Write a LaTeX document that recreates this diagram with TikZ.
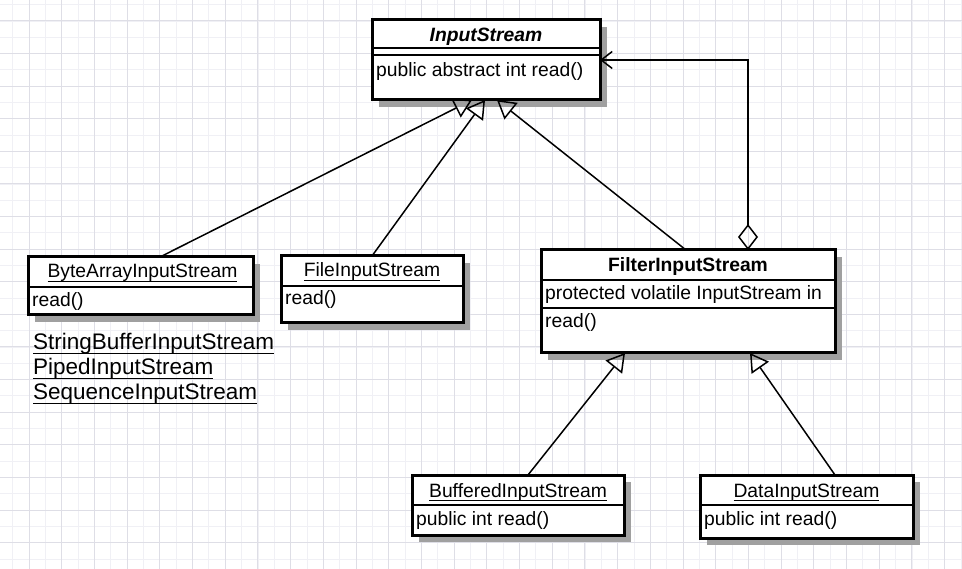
\documentclass[tikz,border=0pt]{standalone}
\usepackage{fontspec}
\setmainfont{Liberation Sans}
\usetikzlibrary{positioning,arrows.meta,shadows,calc}

% underlined class name (ulem is not available)
\newsavebox{\unamebox}
\newcommand{\uname}[1]{\sbox{\unamebox}{#1}\rlap{\rule[-4pt]{\wd\unamebox}{1.3pt}}\usebox{\unamebox}}

\definecolor{gridmajor}{RGB}{222,222,230}
\definecolor{gridminor}{RGB}{240,240,245}
\definecolor{shadowgray}{RGB}{160,160,160}

\tikzset{
  classbox/.style={draw, line width=3pt, fill=white, inner sep=0pt, outer sep=0pt,
    drop shadow={shadow xshift=7pt, shadow yshift=-7pt, fill=shadowgray, opacity=1}},
  sepline/.style={line width=2pt},
  ctitle/.style={anchor=base, inner sep=0pt, font=\fontsize{19.3}{23}\selectfont},
  cmember/.style={anchor=base west, inner sep=0pt, font=\fontsize{19.3}{23}\selectfont},
  subclass/.style={anchor=base west, inner sep=0pt, font=\fontsize{22.5}{25}\selectfont},
  extends/.style={line width=1.5pt, -{Triangle[open, length=18pt, width=21pt]}},
  aggr/.style={line width=1.5pt, {Diamond[open, length=26pt, width=20pt]}-{Straight Barb[length=11pt, width=17pt]}},
}

\begin{document}
\begin{tikzpicture}[x=1pt, y=-1pt]
\fill[white] (0,0) rectangle (962,569);
\useasboundingbox (0,0) rectangle (962,569);

% background grid
\foreach \i in {0,...,58} \draw[gridminor, line width=0.8pt] (12.65+\i*16.35,0) -- ++(0,569);
\foreach \j in {0,...,34} \draw[gridminor, line width=0.8pt] (0,4.7+\j*16.3) -- ++(962,0);
\foreach \i in {0,...,28} \draw[gridmajor, line width=1pt] (29+\i*32.7,0) -- ++(0,569);
\foreach \j in {0,...,16} \draw[gridmajor, line width=1pt] (0,21+\j*32.6) -- ++(962,0);

% class boxes
\node[classbox, minimum width=228pt, minimum height=80pt] (instream) at (486,60) {};
\node[classbox, minimum width=225pt, minimum height=58pt] (bytearray) at (140.5,286) {};
\node[classbox, minimum width=182pt, minimum height=67pt] (fileis) at (372,289.5) {};
\node[classbox, minimum width=294pt, minimum height=103pt] (filter) at (688,301.5) {};
\node[classbox, minimum width=212pt, minimum height=60pt] (buffered) at (518,505) {};
\node[classbox, minimum width=213pt, minimum height=63pt] (datais) at (806.5,506.5) {};

% compartment lines
\foreach \b/\d in {instream/28, instream/35, bytearray/30, fileis/30, filter/30, filter/58, buffered/30, datais/30} {
    \draw[sepline] ([yshift=-\d pt]\b.north west) -- ([yshift=-\d pt]\b.north east);
}

% names
\node[ctitle] (instream-t) at ([yshift=-22pt]instream.north) {\textbf{\textit{InputStream}}};
\node[ctitle] (bytearray-t) at ([xshift=2pt,yshift=-21pt]bytearray.north) {\uname{ByteArrayInputStream}};
\node[ctitle] (fileis-t) at ([yshift=-21pt]fileis.north) {\uname{FileInputStream}};
\node[ctitle] (filter-t) at ([yshift=-22pt]filter.north) {\textbf{FilterInputStream}};
\node[ctitle] (buffered-t) at ([yshift=-22pt]buffered.north) {\uname{BufferedInputStream}};
\node[ctitle] (datais-t) at ([yshift=-22pt]datais.north) {\uname{DataInputStream}};

% members
\node[cmember] (instream-m) at ([xshift=4pt,yshift=-57pt]instream.north west) {public abstract int read()};
\node[cmember] (bytearray-m) at ([xshift=4pt,yshift=-50pt]bytearray.north west) {read()};
\node[cmember] (fileis-m) at ([xshift=4pt,yshift=-49pt]fileis.north west) {read()};
\node[cmember] (filter-f) at ([xshift=4pt,yshift=-50pt]filter.north west) {protected volatile InputStream in};
\node[cmember] (filter-m) at ([xshift=4pt,yshift=-78pt]filter.north west) {read()};
\node[cmember] (buffered-m) at ([xshift=4pt,yshift=-50pt]buffered.north west) {public int read()};
\node[cmember] (datais-m) at ([xshift=4pt,yshift=-50pt]datais.north west) {public int read()};

% other subclasses
\node[subclass] (sbis) at (33,350) {\uname{StringBufferInputStream}};
\node[subclass] (pipedis) at (33,375) {\uname{PipedInputStream}};
\node[subclass] (seqis) at (33,400) {\uname{SequenceInputStream}};

% generalisation
\draw[extends] ([xshift=19.5pt]bytearray.north) -- ([xshift=-14pt]instream.south);
\draw[extends] (fileis.north) -- ([xshift=-1pt]instream.south);
\draw[extends] ([xshift=-2pt]filter.north) -- ([xshift=11pt]instream.south);
\draw[extends] ([xshift=10pt]buffered.north) -- ([xshift=-63pt]filter.south);
\draw[extends] ([xshift=28.5pt]datais.north) -- ([xshift=62pt]filter.south);

% aggregation
\draw[aggr] ([xshift=60pt]filter.north) |- (instream.east);
\end{tikzpicture}
\end{document}
